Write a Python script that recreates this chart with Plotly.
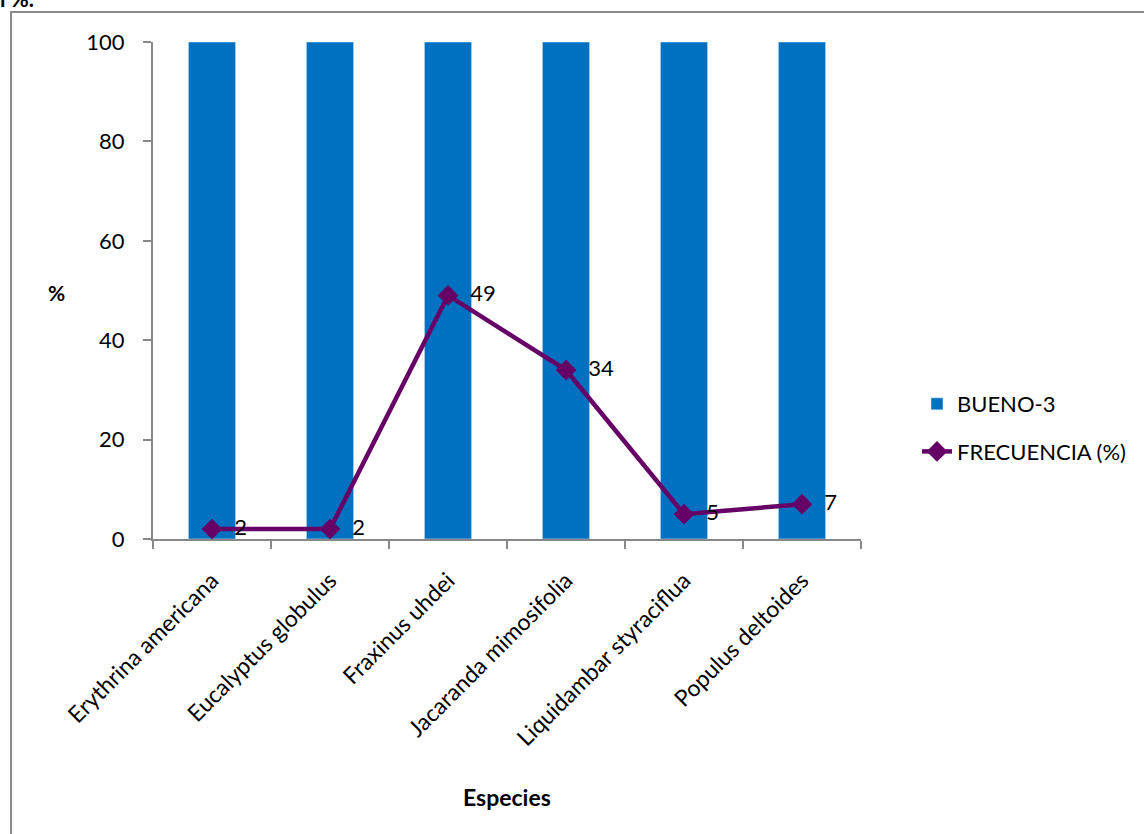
import plotly.graph_objects as go

categories = ["Erythrina americana", "Eucalyptus globulus", "Fraxinus uhdei",
              "Jacaranda mimosifolia", "Liquidambar styraciflua", "Populus deltoides"]
bueno3 = [100, 100, 100, 100, 100, 100]
frecuencia = [2, 2, 49, 34, 5, 7]

W, H = 1144, 834
L, R, T, B = 153, 1144 - 861, 42, 834 - 539
pw, ph = W - L - R, H - T - B

def px(x):
    return (x - L) / pw

def py(y):
    return (H - B - y) / ph

FONT = "Lato, 'Open Sans', sans-serif"

fig = go.Figure()
fig.add_trace(go.Bar(x=categories, y=bueno3, name="BUENO-3", marker_color="#0070C0",
                     width=0.40, legendgroup="a"))
fig.add_trace(go.Scatter(x=categories, y=frecuencia, name="FRECUENCIA (%)", mode="lines+markers+text",
                         line=dict(color="#660066", width=4.5),
                         marker=dict(symbol="diamond", size=16, color="#660066"),
                         text=[str(v) for v in frecuencia], texttemplate="  %{text}",
                         textposition="middle right",
                         textfont=dict(size=22, color="black", family=FONT),
                         legendgroup="b"))

fig.update_layout(
    width=W, height=H,
    margin=dict(l=L, r=R, t=T, b=B),
    plot_bgcolor="white", paper_bgcolor="white",
    font=dict(family=FONT, size=22, color="black"),
    showlegend=True,
    legend=dict(x=px(917), y=py(383), xanchor="left", yanchor="top",
                font=dict(size=22, family=FONT), traceorder="grouped",
                tracegroupgap=16, bgcolor="rgba(0,0,0,0)"),
    xaxis=dict(showline=True, linecolor="#888888", linewidth=2, ticks="outside",
               tickcolor="#888888", ticklen=8, tickwidth=2, tickson="boundaries",
               tickangle=-45, tickfont=dict(size=23), showgrid=False, zeroline=False,
               ticklabelstandoff=17),
    yaxis=dict(range=[0, 100], dtick=20, showline=True, linecolor="#888888", linewidth=2,
               ticks="outside", tickcolor="#888888", ticklen=8, tickwidth=2,
               tickfont=dict(size=22), showgrid=False, zeroline=False, ticklabelstandoff=14),
    shapes=[dict(type="rect", xref="paper", yref="paper",
                 x0=px(11), x1=px(1160), y0=py(12), y1=py(850),
                 line=dict(color="#8c8c8c", width=2), fillcolor="rgba(0,0,0,0)", layer="below")],
    annotations=[
        dict(text="<b>%</b>", x=px(56), y=py(292), xref="paper", yref="paper",
             xanchor="center", yanchor="middle", showarrow=False, font=dict(size=21)),
        dict(text="<b>Especies</b>", x=px(507), y=py(797), xref="paper", yref="paper",
             xanchor="center", yanchor="middle", showarrow=False, font=dict(size=23)),
        dict(text="<b>l %.</b>", x=px(-2), y=py(14), xref="paper", yref="paper",
             xanchor="left", yanchor="bottom", showarrow=False, font=dict(size=22)),
    ],
)

fig.write_html("out.html", post_script="document.body.style.margin='0';",
               config={"displayModeBar": False})
